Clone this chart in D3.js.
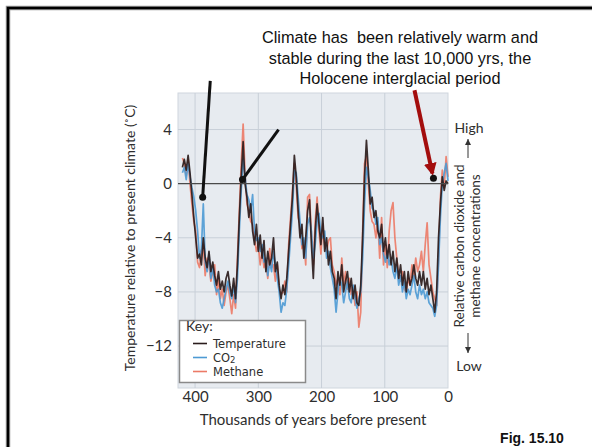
<!DOCTYPE html>
<html>
<head>
<meta charset="utf-8">
<script src="https://cdn.jsdelivr.net/npm/d3@7"></script>
<style>
  html, body { margin: 0; padding: 0; background: #fff; }
  svg { display: block; }
</style>
</head>
<body>
<svg id="chart" width="592" height="447"></svg>
<script>
// thousands of years before present, one sample every 3 kyr
const ages = d3.range(420, -1, -3);

// values, in °C relative to present (all three on the left scale)
const temperature = [
  1.2, 1.8, 1.0, 2.1, 0.8, -0.8, -2.5, -4.0, -5.5, -5.2,
  -6.0, -4.0, -5.5, -6.2, -5.0, -6.5, -5.8, -6.8, -7.5, -6.5,
  -7.8, -7.2, -8.0, -7.0, -6.5, -7.5, -8.3, -7.0, -8.5, -6.0,
  -2.5, 0.5, 3.1, 0.0, -1.0, -2.5, -1.5, -3.5, -4.5, -3.0,
  -5.0, -3.8, -5.5, -4.2, -6.5, -5.0, -6.0, -5.5, -4.0, -6.5,
  -5.8, -7.5, -8.5, -7.5, -8.2, -7.0, -5.0, -3.0, -1.0, 2.1,
  0.5, -2.0, -4.0, -3.0, -5.5, -4.0, -2.0, -1.2, -4.5, -7.0,
  -3.5, -1.5, -3.0, -4.5, -2.5, -5.0, -4.0, -6.0, -5.0, -6.5,
  -7.0, -8.5, -6.5, -7.5, -6.0, -8.0, -7.2, -6.5, -8.0, -7.0,
  -8.5, -7.5, -8.8, -9.0, -7.5, -4.0, 0.5, 3.2, 1.0, -1.5,
  -1.0, -2.5, -2.0, -3.5, -4.0, -3.0, -5.0, -4.0, -5.5, -4.5,
  -6.0, -5.0, -6.5, -5.5, -7.0, -6.0, -7.5, -6.5, -8.0, -6.5,
  -7.5, -7.0, -6.0, -7.0, -7.5, -6.5, -7.5, -6.5, -7.8, -7.0,
  -8.2, -7.5, -8.5, -9.5, -8.0, -4.0, -1.5, 0.5, -0.5, 0.2,
  0.0
];
const co2 = [
  0.8, 1.2, 0.3, 1.5, 0.5, -0.3, -1.0, -2.0, -3.5, -5.5,
  -4.8, -1.5, -5.8, -6.5, -5.2, -7.0, -6.2, -7.5, -8.0, -7.8,
  -8.8, -9.2, -8.5, -7.8, -7.2, -8.0, -8.5, -7.5, -8.8, -7.0,
  -3.5, -0.5, 1.8, 0.6, -0.8, -1.2, -2.0, -0.8, -3.5, -4.2,
  -4.0, -5.0, -4.5, -5.8, -5.5, -6.8, -5.8, -6.5, -5.0, -6.0,
  -7.0, -8.0, -9.5, -8.8, -9.0, -7.8, -6.0, -4.0, -2.0, 1.0,
  0.8, -1.0, -2.8, -4.5, -4.0, -5.5, -3.0, -2.5, -3.5, -5.5,
  -4.5, -2.8, -2.2, -3.8, -4.0, -3.5, -5.5, -5.0, -6.2, -7.0,
  -7.8, -9.5, -8.0, -7.0, -7.5, -8.8, -8.0, -7.2, -8.5, -8.8,
  -7.5, -8.5, -9.2, -8.5, -8.0, -5.5, -1.5, 1.2, 0.5, -0.5,
  -1.8, -2.0, -3.0, -2.5, -4.5, -4.0, -5.2, -5.8, -5.0, -6.0,
  -5.5, -6.5, -7.0, -6.0, -7.5, -6.8, -8.0, -7.2, -8.5, -7.8,
  -8.2, -7.5, -6.8, -8.0, -8.5, -7.5, -8.2, -7.8, -8.5, -8.0,
  -8.8, -9.0, -9.2, -9.8, -9.0, -6.0, -2.5, 0.0, 0.8, 1.5,
  0.2
];
const methane = [
  1.9, 1.5, 0.6, 1.8, 0.0, -1.5, -2.8, -3.5, -5.8, -6.2,
  -5.0, -4.5, -6.8, -5.5, -6.0, -7.2, -6.5, -6.0, -8.2, -7.0,
  -8.5, -7.8, -9.0, -8.0, -7.5, -8.5, -9.6, -8.2, -9.2, -5.5,
  -2.0, 1.5, 4.4, 0.8, -1.5, -2.0, -2.8, -3.0, -4.0, -5.0,
  -4.5, -6.0, -5.0, -6.2, -5.8, -7.0, -4.8, -6.2, -6.0, -7.2,
  -6.0, -7.8, -8.2, -8.0, -7.2, -8.0, -4.5, -2.5, -0.5, 1.5,
  -0.2, -2.5, -3.0, -4.8, -4.2, -6.0, -1.0, -0.8, -3.8, -6.0,
  -2.8, -1.0, -3.5, -5.2, -3.0, -4.5, -5.0, -4.2, -4.0, -6.0,
  -6.5, -7.5, -7.0, -8.2, -5.5, -7.5, -6.5, -7.8, -7.0, -8.2,
  -7.8, -9.0, -8.0, -10.6, -9.5, -3.5, 1.5, 2.0, 0.0, -2.0,
  -2.8, -3.0, -4.0, -2.8, -5.5, -2.5, -6.0, -4.5, -6.2, -3.5,
  -2.0, -1.4, -4.0, -5.5, -6.8, -7.2, -6.5, -7.8, -8.0, -7.0,
  -7.5, -6.0, -7.0, -5.5, -6.5, -6.0, -5.0, -6.5, -4.5, -2.9,
  -6.0, -7.0, -8.0, -8.5, -9.0, -5.5, -1.0, 1.0, -0.3, 2.0,
  0.5
];

const yTicks = [4, 0, -4, -8, -12];
const xTicks = [400, 300, 200, 100, 0];
const keyLabels = ["Temperature", "CO2", "Methane"];

const noteLines = [
  "Climate has  been relatively warm and",
  "stable during the last 10,000 yrs, the",
  "Holocene interglacial period"
];
// pointer ends: [age, value]
const pointers = [
  { from: [376, 7.6], to: [388, -1.0], color: "#111", head: false },
  { from: [268, 4.0], to: [325, 0.3], color: "#111", head: false },
  { from: [53, 6.9], to: [23, 0.4], color: "#a30d0d", head: true }
];

const svg = d3.select("#chart");
const W = 592, H = 447;

// slide frame
svg.append("rect")
  .attr("x", 8).attr("y", 8).attr("width", W + 10).attr("height", H + 10)
  .attr("fill", "none").attr("stroke", "#999").attr("stroke-width", 4.5);
svg.append("rect")
  .attr("x", 8).attr("y", 8).attr("width", W + 10).attr("height", H + 10)
  .attr("fill", "none").attr("stroke", "#000").attr("stroke-width", 2.5);

const x = d3.scaleLinear().domain([427, 0]).range([178, 448]);
const y = d3.scaleLinear().domain([6.7, -15.1]).range([93, 388]);

const plot = svg.append("g");
plot.append("rect")
  .attr("x", x(427)).attr("y", y(6.7))
  .attr("width", x(0) - x(427)).attr("height", y(-15.1) - y(6.7))
  .attr("fill", "#e7ebf0").attr("stroke", "#cfd6de").attr("stroke-width", 1);

// grid
plot.append("g").selectAll("line")
  .data(yTicks.filter(d => d !== 0)).join("line")
  .attr("x1", x(427)).attr("x2", x(0))
  .attr("y1", d => y(d)).attr("y2", d => y(d))
  .attr("stroke", "#c8cfd8").attr("stroke-width", 1);
plot.append("g").selectAll("line")
  .data(xTicks.filter(d => d !== 0)).join("line")
  .attr("x1", d => x(d)).attr("x2", d => x(d))
  .attr("y1", y(6.7)).attr("y2", y(-15.1))
  .attr("stroke", "#c8cfd8").attr("stroke-width", 1);

// series
const series = [
  { values: methane, color: "#ec7a66", opacity: 0.9 },
  { values: co2, color: "#4d9ad4", opacity: 0.9 },
  { values: temperature, color: "#2b1c1c", opacity: 0.92 }
];
const line = d3.line()
  .x((d, i) => x(ages[i]))
  .y(d => y(d));
series.forEach(s => {
  plot.append("path")
    .datum(s.values)
    .attr("d", line)
    .attr("fill", "none")
    .attr("stroke", s.color)
    .attr("stroke-opacity", s.opacity)
    .attr("stroke-width", 1.7)
    .attr("stroke-linejoin", "round");
});

// present-climate line
plot.append("line")
  .attr("x1", x(427)).attr("x2", x(0))
  .attr("y1", y(0)).attr("y2", y(0))
  .attr("stroke", "#4a4a4a").attr("stroke-width", 1.4);

// axes
const labelFont = "Lato, 'Open Sans', sans-serif";
const ink = "#2e2e2e";
const yAxis = svg.append("g")
  .attr("transform", `translate(${x(427)},0)`)
  .call(d3.axisLeft(y).tickValues(yTicks).tickSize(0).tickPadding(6));
const xAxis = svg.append("g")
  .attr("transform", `translate(0,${y(-15.1)})`)
  .call(d3.axisBottom(x).tickValues(xTicks).tickSize(0).tickPadding(3));
[yAxis, xAxis].forEach(a => {
  a.select(".domain").remove();
  a.selectAll("text")
    .attr("font-family", labelFont)
    .attr("font-size", 15)
    .attr("fill", ink);
});

svg.append("text")
  .attr("x", 313).attr("y", 425)
  .attr("text-anchor", "middle")
  .attr("font-family", labelFont).attr("font-size", 15)
  .attr("fill", ink)
  .text("Thousands of years before present");

svg.append("text")
  .attr("transform", "translate(130,238) rotate(-90)")
  .attr("text-anchor", "middle").attr("dy", "0.35em")
  .attr("font-family", labelFont).attr("font-size", 14)
  .attr("fill", ink)
  .text("Temperature relative to present climate (˚C)");

// right-hand scale note
const right = svg.append("g").attr("font-family", labelFont).attr("fill", ink);
right.append("text").attr("x", 469).attr("y", 133)
  .attr("text-anchor", "middle").attr("font-size", 14).text("High");
right.append("text").attr("x", 469).attr("y", 371)
  .attr("text-anchor", "middle").attr("font-size", 14).text("Low");
right.append("text")
  .attr("transform", "translate(459,246) rotate(-90)")
  .attr("text-anchor", "middle").attr("dy", "0.35em").attr("font-size", 13.5)
  .text("Relative carbon dioxide and");
right.append("text")
  .attr("transform", "translate(475,246) rotate(-90)")
  .attr("text-anchor", "middle").attr("dy", "0.35em").attr("font-size", 13.5)
  .text("methane concentrations");
[[158, 139], [333, 353]].forEach(([a, b]) => {
  right.append("line").attr("x1", 468).attr("x2", 468).attr("y1", a).attr("y2", b)
    .attr("stroke", "#333").attr("stroke-width", 1);
  const dir = b < a ? 1 : -1;
  right.append("path")
    .attr("d", `M468,${b} L465,${b + 6 * dir} L471,${b + 6 * dir} Z`)
    .attr("fill", "#333");
});

// key
const key = svg.append("g").attr("font-family", labelFont).attr("fill", ink);
key.append("rect")
  .attr("x", 179.5).attr("y", 320.5).attr("width", 126).attr("height", 62)
  .attr("fill", "#fff").attr("stroke", "#8a8a8a").attr("stroke-width", 1.5);
key.append("text").attr("x", 186).attr("y", 331).attr("font-size", 14).text("Key:");
const keyColors = ["#2b1c1c", "#4d9ad4", "#ec7a66"];
keyLabels.forEach((lab, i) => {
  const yy = 343.5 + i * 14;
  key.append("line").attr("x1", 193).attr("x2", 207).attr("y1", yy).attr("y2", yy)
    .attr("stroke", keyColors[i]).attr("stroke-width", 1.6);
  const t = key.append("text").attr("x", 213).attr("y", yy + 4)
    .attr("font-family", "'DejaVu Sans', sans-serif").attr("font-size", 11.5);
  if (lab === "CO2") {
    t.append("tspan").text("CO");
    t.append("tspan").attr("dy", 1).attr("font-size", 8.5).text("2");
  } else {
    t.text(lab);
  }
});

// annotation text and pointers
const note = svg.append("g")
  .attr("font-family", "'Liberation Sans', Arial, sans-serif")
  .attr("font-size", 16.3).attr("fill", "#111");
noteLines.forEach((l, i) => {
  note.append("text").attr("x", 400).attr("y", 43 + i * 20.5)
    .attr("text-anchor", "middle").attr("xml:space", "preserve").text(l);
});

const defs = svg.append("defs");
defs.append("marker")
  .attr("id", "redhead").attr("viewBox", "0 0 10 10")
  .attr("refX", 8).attr("refY", 5)
  .attr("markerWidth", 3.2).attr("markerHeight", 3.2)
  .attr("orient", "auto")
  .append("path").attr("d", "M0,0 L10,5 L0,10 Z").attr("fill", "#a30d0d");

pointers.forEach(p => {
  const [x1, y1] = [x(p.from[0]), y(p.from[1])];
  const [x2, y2] = [x(p.to[0]), y(p.to[1])];
  if (p.head) {
    const dx = x2 - x1, dy = y2 - y1, len = Math.hypot(dx, dy);
    svg.append("line")
      .attr("x1", x1).attr("y1", y1)
      .attr("x2", x2 - dx / len * 5).attr("y2", y2 - dy / len * 5)
      .attr("stroke", p.color).attr("stroke-width", 4)
      .attr("marker-end", "url(#redhead)");
  } else {
    svg.append("line")
      .attr("x1", x1).attr("y1", y1).attr("x2", x2).attr("y2", y2)
      .attr("stroke", p.color).attr("stroke-width", 3);
  }
  svg.append("circle").attr("cx", x2).attr("cy", y2).attr("r", 3.5).attr("fill", "#111");
});

svg.append("text")
  .attr("x", 532).attr("y", 443)
  .attr("text-anchor", "middle")
  .attr("font-family", "'Liberation Sans', Arial, sans-serif")
  .attr("font-weight", "bold").attr("font-size", 14)
  .attr("fill", "#111")
  .text("Fig. 15.10");
</script>
</body>
</html>
